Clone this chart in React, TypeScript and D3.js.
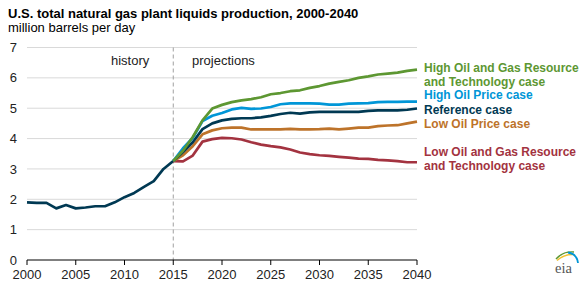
import React from "react";
import * as d3 from "d3";

const HIST_YEARS = [2000, 2001, 2002, 2003, 2004, 2005, 2006, 2007, 2008, 2009, 2010, 2011, 2012, 2013, 2014, 2015];
const HISTORY = [1.9, 1.88, 1.88, 1.7, 1.81, 1.7, 1.73, 1.77, 1.77, 1.9, 2.07, 2.21, 2.41, 2.6, 3.0, 3.26];

const PROJ_YEARS = [
  2015, 2016, 2017, 2018, 2019, 2020, 2021, 2022, 2023, 2024, 2025, 2026, 2027,
  2028, 2029, 2030, 2031, 2032, 2033, 2034, 2035, 2036, 2037, 2038, 2039, 2040,
];
const HIGH_RESOURCE = [
  3.26, 3.6, 4.05, 4.6, 4.99, 5.11, 5.2, 5.26, 5.3, 5.36, 5.46, 5.5, 5.56,
  5.59, 5.67, 5.73, 5.81, 5.87, 5.92, 6.0, 6.05, 6.11, 6.14, 6.17, 6.23, 6.27,
];
const HIGH_PRICE = [
  3.26, 3.68, 4.02, 4.58, 4.75, 4.84, 4.96, 5.01, 4.98, 4.99, 5.04, 5.13, 5.16,
  5.16, 5.16, 5.15, 5.12, 5.12, 5.15, 5.16, 5.17, 5.2, 5.21, 5.21, 5.22, 5.22,
];
const REFERENCE = [
  3.26, 3.56, 3.88, 4.31, 4.5, 4.6, 4.65, 4.67, 4.67, 4.7, 4.75, 4.81, 4.85,
  4.82, 4.86, 4.88, 4.88, 4.88, 4.88, 4.88, 4.91, 4.93, 4.93, 4.93, 4.95, 4.99,
];
const LOW_PRICE = [
  3.26, 3.45, 3.75, 4.14, 4.27, 4.34, 4.36, 4.36, 4.3, 4.3, 4.3, 4.3, 4.32,
  4.3, 4.3, 4.31, 4.33, 4.3, 4.33, 4.36, 4.36, 4.41, 4.43, 4.44, 4.5, 4.56,
];
const LOW_RESOURCE = [
  3.26, 3.25, 3.44, 3.9, 3.98, 4.02, 4.01, 3.97, 3.88, 3.8, 3.75, 3.71, 3.64,
  3.54, 3.49, 3.45, 3.43, 3.4, 3.37, 3.34, 3.33, 3.3, 3.28, 3.26, 3.22, 3.22,
];

const SERIES = [
  { name: "high-resource", values: HIGH_RESOURCE, color: "#5d9732", label: ["High Oil and Gas Resource", "and Technology case"] },
  { name: "high-price", values: HIGH_PRICE, color: "#0096d7", label: ["High Oil Price case"] },
  { name: "reference", values: REFERENCE, color: "#003953", label: ["Reference case"] },
  { name: "low-price", values: LOW_PRICE, color: "#bd732a", label: ["Low Oil Price case"] },
  { name: "low-resource", values: LOW_RESOURCE, color: "#a33340", label: ["Low Oil and Gas Resource", "and Technology case"] },
];
// baseline of first label line for each series
const LABEL_Y = [71.5, 99, 114, 127.5, 155.5];

const Y_TICKS = [0, 1, 2, 3, 4, 5, 6, 7];
const X_TICKS = [2000, 2005, 2010, 2015, 2020, 2025, 2030, 2035, 2040];

const W = 583;
const H = 284;
const FONT = "'Liberation Sans', Arial, Helvetica, sans-serif";

export default function App() {
  const x = d3.scaleLinear().domain([2000, 2040]).range([27, 417]);
  const y = d3.scaleLinear().domain([0, 7]).range([260, 47.5]);

  const line = d3
    .line<[number, number]>()
    .x((d) => x(d[0]))
    .y((d) => y(d[1]));

  const hist = HIST_YEARS.map((yr, i) => [yr, HISTORY[i]] as [number, number]);

  return (
    <svg
      width={W}
      height={H}
      style={{ position: "absolute", left: 0, top: 0, background: "#fff" }}
      fontFamily={FONT}
    >
      <text x={8} y={18} fontSize={13} fontWeight="bold" fill="#000">
        U.S. total natural gas plant liquids production, 2000-2040
      </text>
      <text x={8} y={32} fontSize={13} fill="#000">
        million barrels per day
      </text>

      {Y_TICKS.filter((t) => t > 0).map((t) => (
        <line key={t} x1={x(2000)} x2={x(2040)} y1={y(t)} y2={y(t)} stroke="#d9d9d9" strokeWidth={1} />
      ))}
      {Y_TICKS.map((t) => (
        <text key={t} x={17} y={y(t) + 4.6} fontSize={13} textAnchor="end" fill="#222">
          {t}
        </text>
      ))}

      <line x1={x(2015)} x2={x(2015)} y1={y(7)} y2={y(0)} stroke="#a0a0a0" strokeWidth={1} strokeDasharray="4,3" />
      <text x={111} y={64.5} fontSize={13} fill="#222">history</text>
      <text x={192} y={65} fontSize={13} fill="#222">projections</text>

      <line x1={x(2000)} x2={x(2040)} y1={y(0)} y2={y(0)} stroke="#000" strokeWidth={1} />
      {X_TICKS.map((t) => (
        <g key={t}>
          <line x1={x(t)} x2={x(t)} y1={y(0)} y2={y(0) + 5} stroke="#000" strokeWidth={1} />
          <text x={x(t)} y={279} fontSize={13} textAnchor="middle" fill="#222">
            {t}
          </text>
        </g>
      ))}

      <path d={line(hist) || ""} fill="none" stroke="#003953" strokeWidth={2.7} strokeLinejoin="round" />
      {[...SERIES].reverse().map((s) => (
        <path
          key={s.name}
          d={line(PROJ_YEARS.map((yr, i) => [yr, s.values[i]] as [number, number])) || ""}
          fill="none"
          stroke={s.color}
          strokeWidth={2.7}
          strokeLinejoin="round"
        />
      ))}

      {SERIES.map((s, i) => (
        <text key={s.name} x={424} y={LABEL_Y[i]} fontSize={12} fontWeight="bold" fill={s.color}>
          {s.label.map((l, j) => (
            <tspan key={j} x={424} dy={j === 0 ? 0 : 14}>
              {l}
            </tspan>
          ))}
        </text>
      ))}

      {/* eia logo */}
      <g>
        <path d="M556,259 Q563,251 574,252" fill="none" stroke="#5d9732" strokeWidth={1.4} />
        <path d="M557,260.5 Q564,254 574,254.5" fill="none" stroke="#f2c22e" strokeWidth={1.4} />
        <path d="M568,252.5 Q577,254 578,263" fill="none" stroke="#0096d7" strokeWidth={1.8} />
        <text x={555} y={273} fontSize={14.5} fontFamily="'Liberation Serif', 'DejaVu Serif', serif" fill="#555">
          eia
        </text>
      </g>
    </svg>
  );
}
